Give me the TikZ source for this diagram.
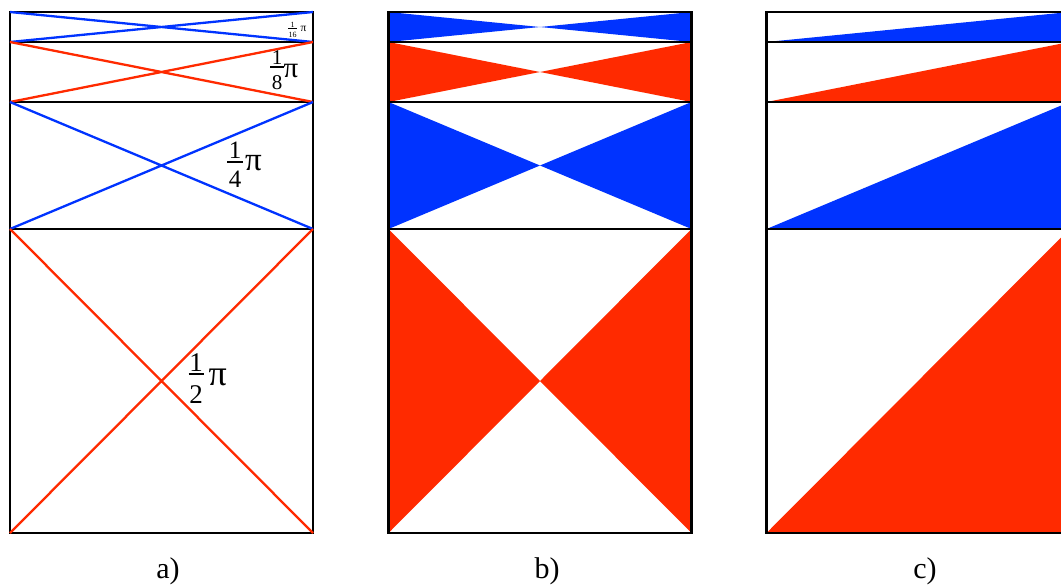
\documentclass[tikz,border=0pt]{standalone}
\usepackage{fontspec}
\setmainfont{Liberation Serif}
\definecolor{pblue}{RGB}{0,51,255}
\definecolor{pred}{RGB}{255,42,0}
\begin{document}
\begin{tikzpicture}[x=1pt,y=-1pt,
  frame/.style={draw=black,line width=2.8pt},
  ray/.style={line width=2.3pt},
  dig/.style={inner sep=0pt,anchor=base,font=\fontsize{#1}{#1}\selectfont},
  pisym/.style={inner sep=0pt,anchor=base west,font=\fontsize{#1}{#1}\selectfont},
  captxt/.style={inner sep=0pt,anchor=base,font=\fontsize{30}{30}\selectfont}]
\useasboundingbox (0,0) rectangle (1061,587);
% panel b and c fills
\foreach \t/\b/\c in {12/42/pblue,42/102/pred,102/229/pblue,229/533/pred}{
  \fill[\c] (388.5,\t) -- (388.5,\b) -- (540,{(\t+\b)/2}) -- cycle;
  \fill[\c] (691.5,\t) -- (691.5,\b) -- (540,{(\t+\b)/2}) -- cycle;
  \fill[\c] (766.5,\b) -- (1069.5,\b) -- (1069.5,\t) -- cycle;
}
% frames
\foreach \x in {10,388.5,766.5}{
  \draw[frame] (\x,12) rectangle ++(303,521);
  \foreach \y in {42,102,229} \draw[frame] (\x,\y) -- ++(303,0);
}
% panel a rays
\foreach \t/\b/\c in {12/42/pblue,42/102/pred,102/229/pblue,229/533/pred}{
  \draw[ray,\c] (10,\t) -- (313,\b) (10,\b) -- (313,\t);
}
% labels 1/2 pi
\node[dig=27] (hn) at (196,371) {1};
\node[dig=27] (hd) at (196,403) {2};
\draw[line width=1.4pt] (188.5,374) -- (203.5,374);
\node[pisym=36] (hp) at (208.5,385) {π};
% 1/4 pi
\node[dig=25] (qn) at (235,158.5) {1};
\node[dig=25] (qd) at (235,187) {4};
\draw[line width=1.3pt] (227,162) -- (243,162);
\node[pisym=33] (qp) at (245,170) {π};
% 1/8 pi
\node[dig=21] (en) at (277,64.5) {1};
\node[dig=21] (ed) at (277,89) {8};
\draw[line width=1.1pt] (270,67) -- (284,67);
\node[pisym=29] (ep) at (283.5,77) {π};
% 1/16 pi
\node[dig=8] (sn) at (292.5,27) {1};
\node[dig=8] (sd) at (292.5,37) {16};
\draw[line width=0.6pt] (288,28.7) -- (297,28.7);
\node[pisym=11.5] (sp) at (300.5,31) {π};
% captions
\node[captxt] (ca) at (168,578) {a)};
\node[captxt] (cb) at (547,578) {b)};
\node[captxt] (cc) at (925,578) {c)};
\end{tikzpicture}
\end{document}
